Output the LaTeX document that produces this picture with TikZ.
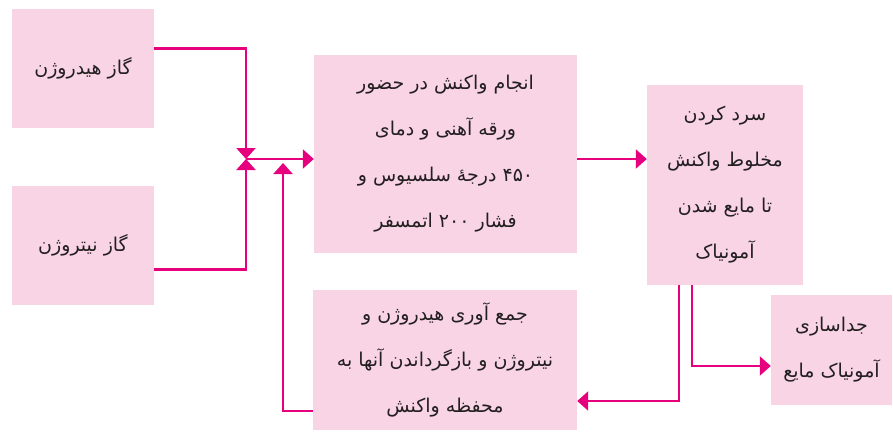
\documentclass[tikz,border=0pt]{standalone}
\usepackage{fontspec}
\usetikzlibrary{arrows.meta}
\TeXXeTstate=1
\newfontfamily\arabicfont[Script=Arabic]{DejaVu Sans}
\definecolor{boxpink}{HTML}{F9D4E5}
\definecolor{linemag}{HTML}{E6007E}
\definecolor{txt}{HTML}{231F20}
\newcommand{\rl}[1]{\beginR #1\endR}
\begin{document}
\begin{tikzpicture}[x=1pt,y=-1pt,
  pbox/.style={fill=boxpink, draw=none, inner sep=0pt, align=center, text=txt,
    font=\arabicfont\fontsize{19}{46}\selectfont},
  arr/.style={draw=linemag, line width=2.2pt, -{Triangle[length=11pt,width=19pt]}}]
\useasboundingbox (0,0) rectangle (893,432);
\node[pbox, minimum width=142pt, minimum height=119pt] (H) at (83,68.5) {\rl{گاز هیدروژن}};
\node[pbox, minimum width=142pt, minimum height=119pt] (N) at (83,245.5) {\rl{گاز نیتروژن}};
\node[pbox, minimum width=263pt, minimum height=198pt] (M) at (445.5,154) {\rl{انجام واکنش در حضور}\\\rl{ورقه آهنی و دمای}\\\rl{\beginL ۴۵۰\endL\ درجهٔ سلسیوس و}\\\rl{فشار \beginL ۲۰۰\endL\ اتمسفر}};
\node[pbox, minimum width=156pt, minimum height=200pt] (C) at (725,185) {\rl{سرد کردن}\\\rl{مخلوط واکنش}\\\rl{تا مایع شدن}\\\rl{آمونیاک}};
\node[pbox, minimum width=264pt, minimum height=140pt] (R) at (445,360) {\rl{جمع آوری هیدروژن و}\\\rl{نیتروژن و بازگرداندن آنها به}\\\rl{محفظه واکنش}};
\node[pbox, minimum width=121pt, minimum height=110pt] (S) at (831.5,350) {\rl{جداسازی}\\\rl{آمونیاک مایع}};
\coordinate (j) at (246,159);
\coordinate (rj) at (283,163);
\draw[arr] ([yshift=20pt]H.east) -| (j);
\draw[arr] ([yshift=-24pt]N.east) -| (j);
\draw[arr] (j) -- (j -| M.west);
\draw[arr] (M.east |- j) -- (C.west |- j);
\draw[arr] ([xshift=-46pt]C.south) |- ([yshift=-41pt]R.east);
\draw[arr] ([xshift=-33pt]C.south) |- ([yshift=-16pt]S.west);
\draw[arr] ([yshift=-51pt]R.west) -| (rj);
\end{tikzpicture}
\end{document}
